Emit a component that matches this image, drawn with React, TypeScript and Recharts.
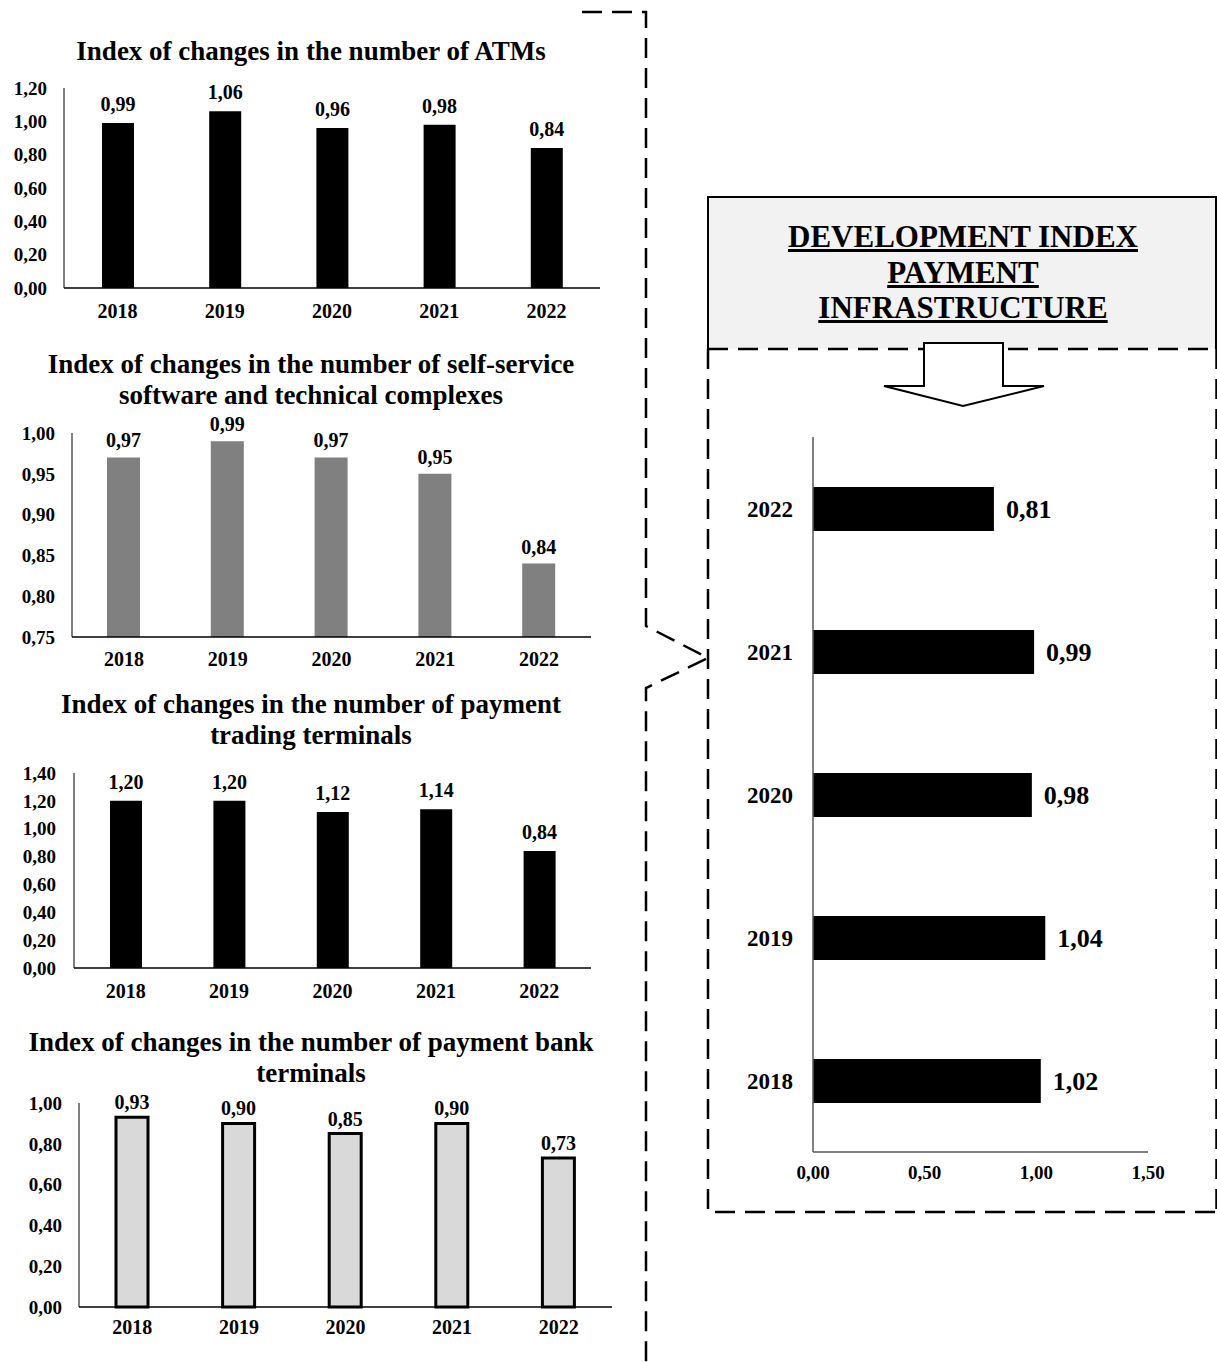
import { BarChart, Bar, XAxis, YAxis, LabelList } from "recharts";

const years = ["2018", "2019", "2020", "2021", "2022"];

const atmIndex = [0.99, 1.06, 0.96, 0.98, 0.84];
const selfServiceIndex = [0.97, 0.99, 0.97, 0.95, 0.84];
const tradingTerminalIndex = [1.2, 1.2, 1.12, 1.14, 0.84];
const bankTerminalIndex = [0.93, 0.9, 0.85, 0.9, 0.73];
const developmentIndex = [1.02, 1.04, 0.98, 0.99, 0.81];

const atmTicks = [0, 0.2, 0.4, 0.6, 0.8, 1.0, 1.2];
const selfServiceTicks = [0.75, 0.8, 0.85, 0.9, 0.95, 1.0];
const tradingTicks = [0, 0.2, 0.4, 0.6, 0.8, 1.0, 1.2, 1.4];
const bankTicks = [0, 0.2, 0.4, 0.6, 0.8, 1.0];
const developmentTicks = [0, 0.5, 1.0, 1.5];

const FONT = '"Liberation Serif", "Times New Roman", serif';
const fmt = (v: any) => Number(v).toFixed(2).replace(".", ",");

type Panel = {
  title: string[];
  titleY: number;
  values: number[];
  ticks: number[];
  plotLeft: number;
  plotRight: number;
  plotTop: number;
  plotBottom: number;
  fill: string;
  stroke?: string;
  barSize: number;
  labelOffset: number;
  yGap: number;
  xGap: number;
};

const panels: Panel[] = [
  {
    title: ["Index of changes in the number of ATMs"],
    titleY: 52,
    values: atmIndex,
    ticks: atmTicks,
    plotLeft: 64, plotRight: 600, plotTop: 88, plotBottom: 288,
    fill: "#000", barSize: 32, labelOffset: 12, yGap: 17, xGap: 16,
  },
  {
    title: ["Index of changes in the number of self-service", "software and technical complexes"],
    titleY: 365,
    values: selfServiceIndex,
    ticks: selfServiceTicks,
    plotLeft: 72, plotRight: 591, plotTop: 433, plotBottom: 637,
    fill: "#808080", barSize: 33, labelOffset: 10, yGap: 17, xGap: 15,
  },
  {
    title: ["Index of changes in the number of payment", "trading terminals"],
    titleY: 705,
    values: tradingTerminalIndex,
    ticks: tradingTicks,
    plotLeft: 74, plotRight: 591, plotTop: 773, plotBottom: 968,
    fill: "#000", barSize: 32, labelOffset: 12, yGap: 18, xGap: 16,
  },
  {
    title: ["Index of changes in the number of payment bank", "terminals"],
    titleY: 1043,
    values: bankTerminalIndex,
    ticks: bankTicks,
    plotLeft: 79, plotRight: 612, plotTop: 1103, plotBottom: 1307,
    fill: "#d9d9d9", stroke: "#000", barSize: 32, labelOffset: 8, yGap: 17, xGap: 13,
  },
];

function SmallChart({ p }: { p: Panel }) {
  const data = years.map((year, i) => ({ year, value: p.values[i] }));
  const mTop = 30;
  const width = p.plotRight + 20;
  const height = mTop + (p.plotBottom - p.plotTop) + 40 + 10;
  const domain = [p.ticks[0], p.ticks[p.ticks.length - 1]];
  const tickStyle = { fill: "#000", fontSize: 19, fontWeight: "bold", fontFamily: FONT };
  return (
    <>
      <div
        style={{
          position: "absolute",
          left: 0,
          width: 622,
          top: p.titleY - 16,
          textAlign: "center",
          fontFamily: FONT,
          fontWeight: "bold",
          fontSize: 27,
          lineHeight: "31px",
          whiteSpace: "nowrap",
        }}
      >
        {p.title.map((t) => (
          <div key={t}>{t}</div>
        ))}
      </div>
      <div style={{ position: "absolute", left: 0, top: p.plotTop - mTop }}>
        <BarChart
          width={width}
          height={height}
          data={data}
          margin={{ top: mTop, right: 20, bottom: 10, left: 0 }}
        >
          <XAxis
            dataKey="year"
            height={40}
            axisLine={{ stroke: "#000", strokeWidth: 1.5 }}
            tickLine={false}
            tickMargin={p.xGap - 6}
            tick={{ ...tickStyle, fontSize: 20 }}
          />
          <YAxis
            type="number"
            width={p.plotLeft}
            domain={domain}
            ticks={p.ticks}
            interval={0}
            tickFormatter={fmt}
            axisLine={{ stroke: "#000", strokeWidth: 1 }}
            tickLine={false}
            tickMargin={p.yGap - 6}
            tick={tickStyle}
          />
          <Bar
            dataKey="value"
            fill={p.fill}
            stroke={p.stroke}
            strokeWidth={p.stroke ? 3 : 0}
            barSize={p.barSize}
            isAnimationActive={false}
          >
            <LabelList
              dataKey="value"
              position="top"
              offset={p.labelOffset}
              formatter={fmt}
              fill="#000"
              fontSize={20}
              fontWeight="bold"
              fontFamily={FONT}
            />
          </Bar>
        </BarChart>
      </div>
    </>
  );
}

function DevelopmentChart() {
  const data = years.map((year, i) => ({ year, value: developmentIndex[i] }));
  return (
    <div style={{ position: "absolute", left: 720, top: 420 }}>
      <BarChart
        layout="vertical"
        width={460}
        height={790}
        data={data}
        margin={{ top: 17, right: 32, bottom: 28, left: 0 }}
      >
        <XAxis
          type="number"
          domain={[0, 1.5]}
          ticks={developmentTicks}
          interval={0}
          tickFormatter={fmt}
          height={30}
          axisLine={{ stroke: "#595959", strokeWidth: 1.5 }}
          tickLine={false}
          tickMargin={8}
          tick={{ fill: "#000", fontSize: 19, fontWeight: "bold", fontFamily: FONT }}
        />
        <YAxis
          type="category"
          dataKey="year"
          reversed
          width={93}
          axisLine={{ stroke: "#595959", strokeWidth: 1.5 }}
          tickLine={false}
          tickMargin={14}
          tick={{ fill: "#000", fontSize: 23, fontWeight: "bold", fontFamily: FONT }}
        />
        <Bar dataKey="value" fill="#000" barSize={44} isAnimationActive={false}>
          <LabelList
            dataKey="value"
            position="right"
            offset={12}
            formatter={fmt}
            fill="#000"
            fontSize={26}
            fontWeight="bold"
            fontFamily={FONT}
          />
        </Bar>
      </BarChart>
    </div>
  );
}

export default function App() {
  const dash = { stroke: "#000", strokeWidth: 2.5, strokeDasharray: "20 10", fill: "none" };
  return (
    <div
      style={{
        position: "absolute",
        left: 0,
        top: 0,
        width: 1217,
        height: 1362,
        background: "#fff",
        overflow: "hidden",
        fontFamily: FONT,
      }}
    >
      <svg width={1217} height={1362} style={{ position: "absolute", left: 0, top: 0 }}>
        <path d="M582 12 H646 V626 L708 658 L646 688 V1362" {...dash} />
        <rect x={708} y={197} width={508} height={152} fill="#f2f2f2" />
        <path d="M708 349 V197 H1216 V349" stroke="#000" strokeWidth={2} fill="none" />
        <path d="M708 349 H1217 M708 349 V1212 H1217 M1216.5 349 V1212" {...dash} />
        <polygon
          points="924,343 1003,343 1003,386 1044,386 963,406 884,386 924,386"
          fill="#fff"
          stroke="#000"
          strokeWidth={2}
        />
      </svg>
      <div
        style={{
          position: "absolute",
          left: 709,
          width: 508,
          top: 219,
          textAlign: "center",
          fontWeight: "bold",
          fontSize: 31,
          lineHeight: "35.5px",
          textDecoration: "underline",
          whiteSpace: "nowrap",
        }}
      >
        <div>DEVELOPMENT INDEX</div>
        <div>PAYMENT</div>
        <div>INFRASTRUCTURE</div>
      </div>
      {panels.map((p) => (
        <SmallChart key={p.titleY} p={p} />
      ))}
      <DevelopmentChart />
    </div>
  );
}
